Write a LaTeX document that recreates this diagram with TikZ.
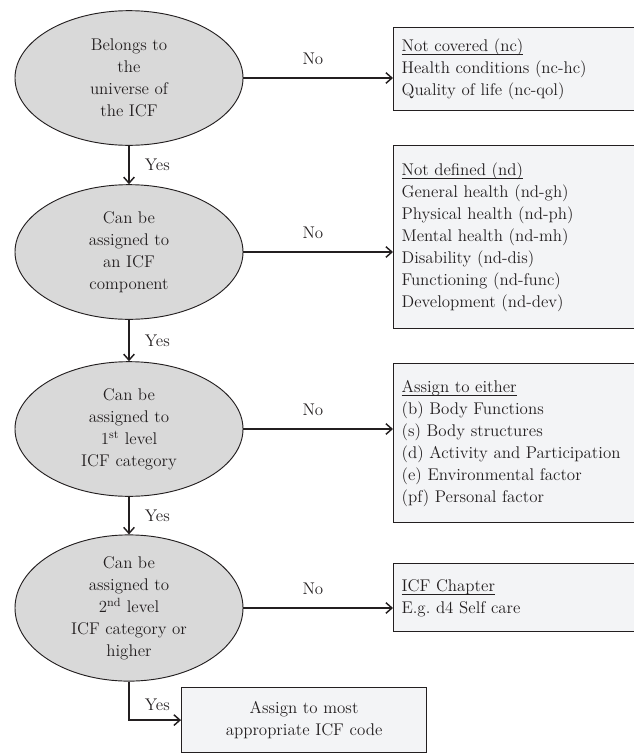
\documentclass[tikz,border=0pt]{standalone}
\usetikzlibrary{arrows.meta,positioning,shapes.geometric}
\definecolor{ink}{RGB}{35,31,32}
\definecolor{oval}{RGB}{217,217,217}
\definecolor{card}{RGB}{243,244,246}
\newcommand\headline[1]{\strut\underline{\smash{#1}\rule[-1pt]{0pt}{0pt}}}
\newcommand\flowfont{\fontsize{12.7}{16.5}\selectfont\hyphenpenalty=10000\relax}
\tikzset{
  ask/.style={ellipse,draw=ink,fill=oval,line width=.7pt,inner sep=0pt,minimum width=171pt,minimum height=101pt,align=center},
  card/.style={rectangle,draw=ink,fill=card,line width=.9pt,anchor=north west,inner xsep=6pt,inner ysep=0pt,minimum width=180.75pt,text width=169pt,align=left},
  flow/.style={draw=ink,line width=1.1pt,-{Straight Barb[length=4.5pt,width=8pt,line width=1.1pt]}},
  tag/.style={text=ink}
}
\begin{document}
\begin{tikzpicture}[x=.75pt,y=-.75pt,font=\flowfont,text=ink]
\useasboundingbox (0,0) rectangle (634,754);
\node[ask] (q1) at (129,78) {Belongs to\\the\\universe of\\the ICF};
\node[ask] (q2) at (129,252) {Can be\\assigned to\\an ICF\\component};
\node[ask] (q3) at (129,429) {Can be\\assigned to\\1\textsuperscript{st} level\\ICF category};
\node[ask] (q4) at (129,608) {Can be\\assigned to\\2\textsuperscript{nd} level\\ICF category or\\higher};
\node[card,minimum height=62.25pt] (nc) at (393,27) {\headline{Not covered (nc)}\\Health conditions (nc-hc)\\Quality of life (nc-qol)\strut};
\node[card,minimum height=137.25pt] (nd) at (393,145) {\headline{Not defined (nd)}\\General health (nd-gh)\\Physical health (nd-ph)\\Mental health (nd-mh)\\Disability (nd-dis)\\Functioning (nd-func)\\Development (nd-dev)\strut};
\node[card,minimum height=119.25pt] (either) at (393,363) {\headline{Assign to either}\\(b) Body Functions\\(s) Body structures\\(d) Activity and Participation\\(e) Environmental factor\\(pf) Personal factor\strut};
\node[card,minimum height=51pt] (chapter) at (393,563) {\headline{ICF Chapter}\\E.g.\ d4 Self care\strut};
\node[card,minimum width=183.75pt,text width=170pt,align=center,minimum height=48.75pt] (code) at (181,687) {Assign to most\\appropriate ICF code};
% yes branch
\draw[flow] (q1) -- node[tag,right=8pt] {Yes} (q2);
\draw[flow] (q2) -- node[tag,right=8pt] {Yes} (q3);
\draw[flow] (q3) -- node[tag,right=8pt] {Yes} (q4);
\draw[flow] (q4.south) |- node[tag,right=8pt,pos=.3] {Yes} (code.west);
% no branch
\draw[flow] (q1.east) -- node[tag,above=6pt,xshift=-4pt] {No} (q1.east -| nc.west);
\draw[flow] (q2.east) -- node[tag,above=6pt,xshift=-4pt] {No} (q2.east -| nd.west);
\draw[flow] (q3.east) -- node[tag,above=6pt,xshift=-4pt] {No} (q3.east -| either.west);
\draw[flow] (q4.east) -- node[tag,above=6pt,xshift=-4pt] {No} (q4.east -| chapter.west);
\end{tikzpicture}
\end{document}
